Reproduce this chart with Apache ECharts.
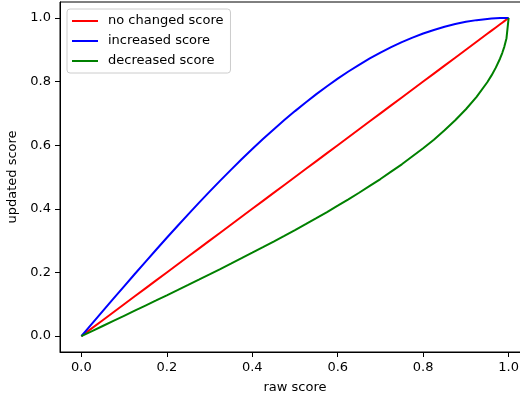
<!DOCTYPE html>
<html><head><meta charset="utf-8">
<script src="https://cdn.jsdelivr.net/npm/echarts@6/dist/echarts.min.js"></script>
<style>html,body{margin:0;padding:0;background:#fff}#c{width:520px;height:396px}</style>
</head><body><div id="c"></div>
<script>
var xs = [0, 0.025, 0.05, 0.075, 0.1, 0.125, 0.15, 0.175, 0.2, 0.225, 0.25, 0.275, 0.3, 0.325, 0.35, 0.375, 0.4, 0.425, 0.45, 0.475, 0.5, 0.525, 0.55, 0.575, 0.6, 0.625, 0.65, 0.675, 0.7, 0.725, 0.75, 0.775, 0.8, 0.825, 0.85, 0.875, 0.9, 0.925, 0.95, 0.96, 0.97, 0.98, 0.985, 0.99, 0.995, 1.0];
var noChanged = [0, 0.025, 0.05, 0.075, 0.1, 0.125, 0.15, 0.175, 0.2, 0.225, 0.25, 0.275, 0.3, 0.325, 0.35, 0.375, 0.4, 0.425, 0.45, 0.475, 0.5, 0.525, 0.55, 0.575, 0.6, 0.625, 0.65, 0.675, 0.7, 0.725, 0.75, 0.775, 0.8, 0.825, 0.85, 0.875, 0.9, 0.925, 0.95, 0.96, 0.97, 0.98, 0.985, 0.99, 0.995, 1.0];
var increased = [0, 0.0393, 0.0785, 0.1175, 0.1564, 0.1951, 0.2334, 0.2714, 0.3090, 0.3461, 0.3827, 0.4187, 0.4540, 0.4886, 0.5225, 0.5556, 0.5878, 0.6191, 0.6494, 0.6788, 0.7071, 0.7343, 0.7604, 0.7853, 0.8090, 0.8315, 0.8526, 0.8725, 0.8910, 0.9081, 0.9239, 0.9379, 0.9511, 0.9622, 0.9724, 0.9808, 0.9877, 0.9930, 0.9969, 0.9980, 0.9989, 0.9995, 0.9997, 0.9999, 1.0, 1.0];
var decreased = [0, 0.0159, 0.0318, 0.0478, 0.0638, 0.0798, 0.0959, 0.1120, 0.1282, 0.1445, 0.1609, 0.1774, 0.1940, 0.2107, 0.2276, 0.2447, 0.2620, 0.2795, 0.2972, 0.3151, 0.3333, 0.3518, 0.3707, 0.3898, 0.4097, 0.4298, 0.4505, 0.4720, 0.4936, 0.5169, 0.5399, 0.5651, 0.5903, 0.6172, 0.6468, 0.6783, 0.7129, 0.7519, 0.7978, 0.8193, 0.8437, 0.8725, 0.8896, 0.9099, 0.9363, 1.0];
var tickVals = [0, 0.2, 0.4, 0.6, 0.8, 1.0];
var seriesNames = ['no changed score', 'increased score', 'decreased score'];

function pairs(ys){ return xs.map(function(x,i){ return [x, ys[i]]; }); }
var font = 'DejaVu Sans';
function axis(name, gap, rot){
  return {
    type: 'value', min: -0.05, max: 1.05,
    name: name, nameLocation: 'middle', nameGap: gap, nameRotate: rot,
    nameTextStyle: {fontFamily: font, fontSize: 13, color: '#000'},
    axisLine: {show: true, onZero: false, lineStyle: {color: '#000', width: 1}},
    axisTick: {show: true, length: 5, customValues: tickVals, lineStyle: {color: '#000'}},
    axisLabel: {customValues: tickVals, fontFamily: font, fontSize: 13, color: '#000', margin: 9,
      formatter: function(v){ return v.toFixed(1); }},
    splitLine: {show: false}
  };
}
var chart = echarts.init(document.getElementById('c'), null, {renderer: 'canvas'});
var colors = ['#ff0000', '#0000ff', '#008000'];
var datas = [noChanged, increased, decreased];
chart.setOption({
  animation: false,
  grid: {left: 60, top: 2, width: 470, height: 350, containLabel: false, outerBoundsMode: 'none',
    show: true, borderColor: '#000', borderWidth: 1, backgroundColor: 'transparent'},
  xAxis: axis('raw score', 29, 0),
  yAxis: axis('updated score', 37, 90),
  legend: {
    left: 67, top: 9, orient: 'vertical', icon: 'rect',
    backgroundColor: '#fff', borderColor: '#cccccc', borderWidth: 1, borderRadius: 3,
    padding: [5, 7, 5, 5], itemWidth: 26, itemHeight: 2, itemGap: 6,
    textStyle: {fontFamily: font, fontSize: 13, lineHeight: 14, color: '#000', padding: [0, 0, 0, 5]},
    data: seriesNames
  },
  series: seriesNames.map(function(n, i){
    return {name: n, type: 'line', data: pairs(datas[i]), showSymbol: false, symbol: 'none',
      color: colors[i], lineStyle: {color: colors[i], width: 2}, z: 2 + i};
  })
});
</script></body></html>
